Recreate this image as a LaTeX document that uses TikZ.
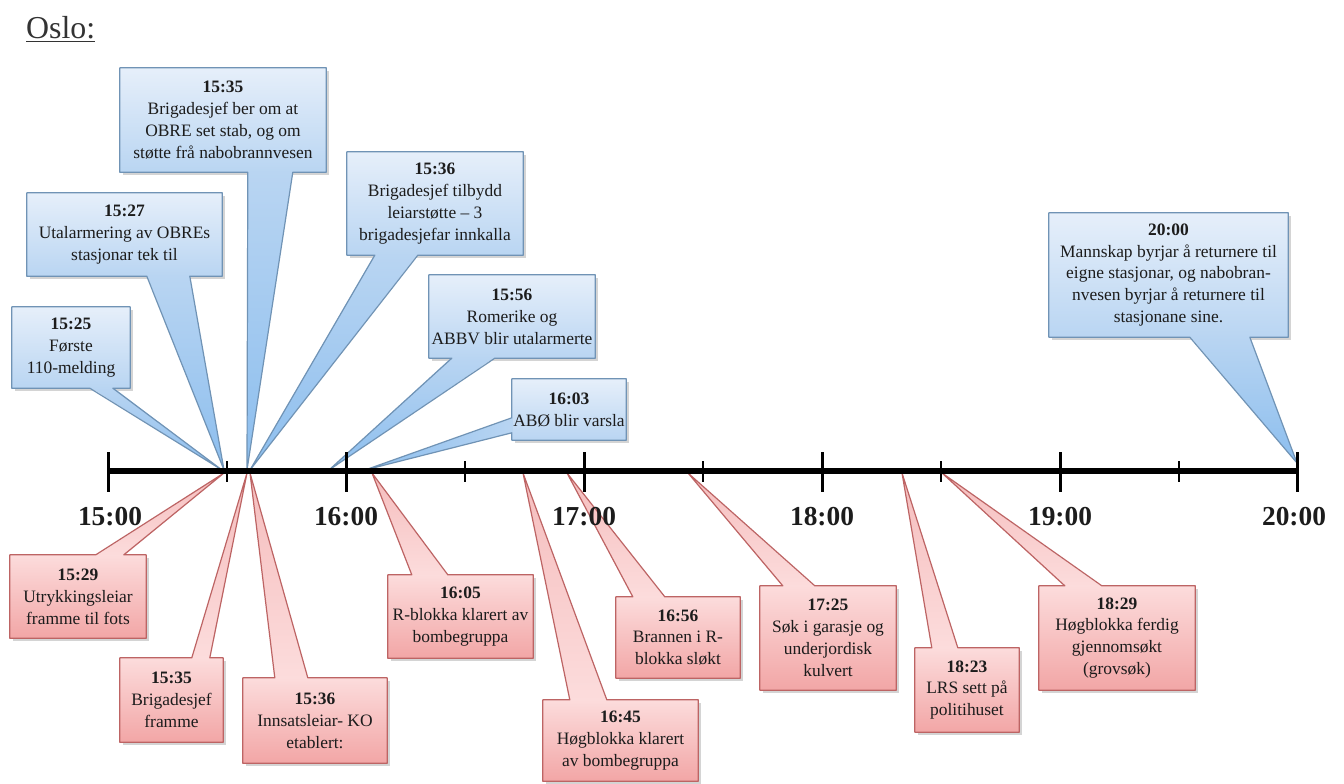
\documentclass[tikz,border=0pt]{standalone}
\usepackage{fontspec}
\setmainfont{Liberation Serif}
\usetikzlibrary{calc}
\pgfdeclarelayer{bg}
\pgfdeclarelayer{paper}
\pgfsetlayers{paper,bg,main}
\definecolor{txt}{HTML}{1C1C1C}
\definecolor{btop}{HTML}{E6EFFA}
\definecolor{bmid}{HTML}{B9D5F2}
\definecolor{btip}{HTML}{8CBEEE}
\definecolor{bline}{HTML}{7093B5}
\definecolor{rtop}{HTML}{FCDCDC}
\definecolor{rmid}{HTML}{F2A6A6}
\definecolor{rtip}{HTML}{F5BDBD}
\definecolor{rline}{HTML}{BD6464}
\tikzset{
  evt/.style={inner sep=0pt, align=center, text=txt, font=\fontsize{17.5}{22}\selectfont},
  hour/.style={font=\fontsize{27.5}{30}\selectfont\bfseries, text=txt},
  axis/.style={line width=5.5bp, black},
  major/.style={line width=3bp, black},
  minor/.style={line width=2.6bp, black},
  shadowfill/.style={black, opacity=.17}
}
% event box: name, x1, y1, x2, y2, text
\newcommand\evbox[6]{%
  \node[evt, minimum width={#4bp-#2bp}, minimum height={#5bp-#3bp}] (#1)
    at ({(#2+#4)/2},{(#3+#5)/2}) {#6};}
% callout with pointer leaving the bottom edge
\newcommand\calldown[5]{%
  \begin{pgfonlayer}{bg}
  \fill[shadowfill] ([shift={(3,3)}]#1.north west) rectangle ([shift={(3,3)}]#1.south east);
  \shade[top color=#5top, bottom color=#5mid] (#1.north west) rectangle (#1.south east);
  \shade[top color=#5mid, bottom color=#5tip] ($(#1.south west)+(#2,-1)$) -- (#4) -- ($(#1.south west)+(#3,-1)$) -- cycle;
  \draw[#5line, line width=1.2bp, line join=round] (#1.north west) -- (#1.north east) -- (#1.south east)
    -- ($(#1.south west)+(#3,0)$) -- (#4) -- ($(#1.south west)+(#2,0)$) -- (#1.south west) -- cycle;
  \end{pgfonlayer}}
% callout with pointer leaving the top edge
\newcommand\callup[5]{%
  \begin{pgfonlayer}{bg}
  \fill[shadowfill] ([shift={(3,3)}]#1.north west) rectangle ([shift={(3,3)}]#1.south east);
  \shade[top color=#5top, bottom color=#5mid] (#1.north west) rectangle (#1.south east);
  \shade[top color=#5tip, bottom color=#5top] ($(#1.north west)+(#2,1)$) -- (#4) -- ($(#1.north west)+(#3,1)$) -- cycle;
  \draw[#5line, line width=1.2bp, line join=round] (#1.north west) -- ($(#1.north west)+(#2,0)$) -- (#4)
    -- ($(#1.north west)+(#3,0)$) -- (#1.north east) -- (#1.south east) -- (#1.south west) -- cycle;
  \end{pgfonlayer}}
% callout with pointer leaving the left edge
\newcommand\callleft[5]{%
  \begin{pgfonlayer}{bg}
  \fill[shadowfill] ([shift={(3,3)}]#1.north west) rectangle ([shift={(3,3)}]#1.south east);
  \shade[top color=#5top, bottom color=#5mid] (#1.north west) rectangle (#1.south east);
  \shade[left color=#5tip, right color=#5mid] ($(#1.north west)+(1,#2)$) -- (#4) -- ($(#1.north west)+(1,#3)$) -- cycle;
  \draw[#5line, line width=1.2bp, line join=round] (#1.north west) -- (#1.north east) -- (#1.south east)
    -- (#1.south west) -- ($(#1.north west)+(0,#3)$) -- (#4) -- ($(#1.north west)+(0,#2)$) -- cycle;
  \end{pgfonlayer}}

\begin{document}
\begin{tikzpicture}[x=1bp, y=-1bp]
\useasboundingbox (0,0) rectangle (1344,783);
\begin{pgfonlayer}{paper}
\fill[white] (0,0) rectangle (1344,783);
\end{pgfonlayer}

% title
\node[anchor=base west, inner sep=0pt, text=black!80, font=\fontsize{32}{36}\selectfont] (title) at (26,39) {\underline{Oslo:}};

% hour positions
\coordinate (h0) at (108,471);
\coordinate (h1) at (346,471);
\coordinate (h2) at (584,471);
\coordinate (h3) at (822,471);
\coordinate (h4) at (1060,471);
\coordinate (h5) at (1297,471);
\coordinate (m0) at (227,471);
\coordinate (m1) at (465,471);
\coordinate (m2) at (703,471);
\coordinate (m3) at (941,471);
\coordinate (m4) at (1179,471);

% pointer tips
\coordinate (tb1) at (222,470);
\coordinate (tb2) at (224,470);
\coordinate (tb3) at (247,470);
\coordinate (tb4) at (250,470);
\coordinate (tb5) at (329,470);
\coordinate (tb6) at (365,470);
\coordinate (tb7) at (1297,463);
\coordinate (tr1) at (224,473);
\coordinate (tr2) at (247,473);
\coordinate (tr3) at (250,473);
\coordinate (tr4) at (372,473);
\coordinate (tr5) at (523,473);
\coordinate (tr6) at (567,473);
\coordinate (tr7) at (688,473);
\coordinate (tr8) at (902,473);
\coordinate (tr9) at (942,473);

% blue events (above)
\evbox{b1}{12}{307}{130}{388}{\textbf{15:25}\\Første\\110-melding}
\evbox{b2}{27}{193}{222}{276}{\textbf{15:27}\\Utalarmering av OBREs\\stasjonar tek til}
\evbox{b3}{120}{68}{326}{172}{\textbf{15:35}\\Brigadesjef ber om at\\OBRE set stab, og om\\støtte frå nabobrannvesen}
\evbox{b4}{347}{152}{523}{255}{\textbf{15:36}\\Brigadesjef tilbydd\\leiarstøtte – 3\\brigadesjefar innkalla}
\evbox{b5}{429}{275}{595}{358}{\textbf{15:56}\\Romerike og\\ABBV blir utalarmerte}
\evbox{b6}{512}{379}{626}{440}{\textbf{16:03}\\ABØ blir varsla}
\evbox{b7}{1049}{213}{1288}{337}{\textbf{20:00}\\Mannskap byrjar å returnere til\\eigne stasjonar, og nabobran-\\nvesen byrjar å returnere til\\stasjonane sine.}

\calldown{b3}{128}{173}{tb3}{b}
\calldown{b2}{120}{163}{tb2}{b}
\calldown{b1}{78}{101}{tb1}{b}
\calldown{b4}{28}{71}{tb4}{b}
\calldown{b5}{23}{66}{tb5}{b}
\callleft{b6}{39}{54}{tb6}{b}
\calldown{b7}{141}{201}{tb7}{b}

% red events (below)
\evbox{r1}{10}{555}{146}{638}{\textbf{15:29}\\Utrykkingsleiar\\framme til fots}
\evbox{r2}{120}{658}{223}{742}{\textbf{15:35}\\Brigadesjef\\framme}
\evbox{r3}{243}{678}{387}{763}{\textbf{15:36}\\Innsatsleiar- KO\\etablert:}
\evbox{r4}{388}{575}{533}{658}{\textbf{16:05}\\R-blokka klarert av\\bombegruppa}
\evbox{r5}{543}{700}{698}{781}{\textbf{16:45}\\Høgblokka klarert\\av bombegruppa}
\evbox{r6}{616}{597}{740}{678}{\textbf{16:56}\\Brannen i R-\\blokka sløkt}
\evbox{r7}{760}{586}{896}{690}{\textbf{17:25}\\Søk i garasje og\\underjordisk\\kulvert}
\evbox{r8}{915}{648}{1019}{732}{\textbf{18:23}\\LRS sett på\\politihuset}
\evbox{r9}{1039}{586}{1195}{690}{\textbf{18:29}\\Høgblokka ferdig\\gjennomsøkt\\(grovsøk)}

\callup{r1}{86}{114}{tr1}{r}
\callup{r2}{72}{90}{tr2}{r}
\callup{r3}{32}{65}{tr3}{r}
\callup{r4}{24}{60}{tr4}{r}
\callup{r5}{27}{64}{tr5}{r}
\callup{r6}{17}{49}{tr6}{r}
\callup{r7}{23}{55}{tr7}{r}
\callup{r8}{17}{43}{tr8}{r}
\callup{r9}{26}{63}{tr9}{r}

% time axis
\draw[axis] (h0) -- (h5);
\foreach \h in {h0,h1,h2,h3,h4,h5}
  \draw[major] ($(\h)+(0,-19)$) -- ($(\h)+(0,21)$);
\foreach \m in {m0,m1,m2,m3,m4}
  \draw[minor] ($(\m)+(0,-10)$) -- ($(\m)+(0,11)$);

% hour labels
\node[hour] (l0) at (110,517) {15:00};
\node[hour] (l1) at (346,517) {16:00};
\node[hour] (l2) at (584,517) {17:00};
\node[hour] (l3) at (822,517) {18:00};
\node[hour] (l4) at (1060,517) {19:00};
\node[hour] (l5) at (1294,517) {20:00};
\end{tikzpicture}
\end{document}
